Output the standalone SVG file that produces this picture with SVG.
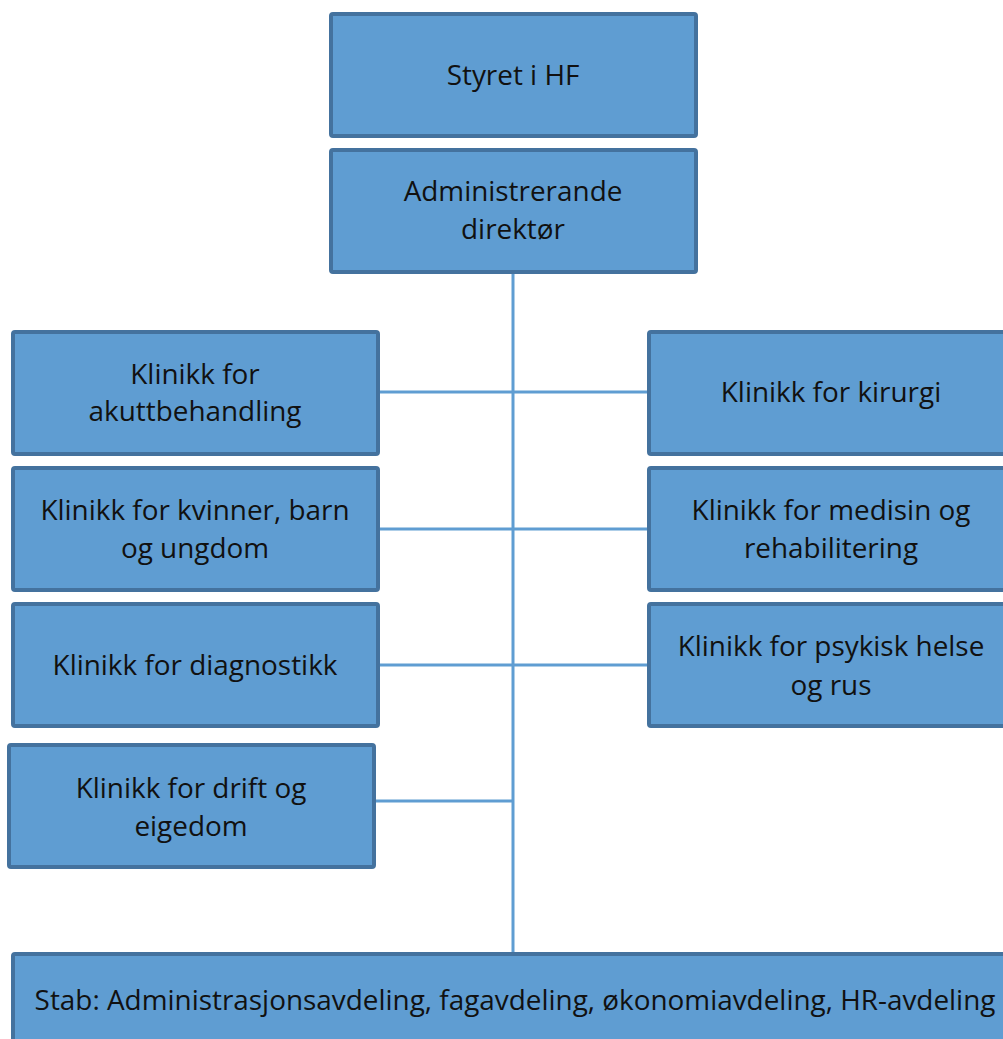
<svg xmlns="http://www.w3.org/2000/svg" width="1003" height="1039" viewBox="0 0 1003 1039">
<style>
.box{fill:#5f9dd2;stroke:#44729e;stroke-width:4}
.t{font-family:"Open Sans","Liberation Sans",sans-serif;font-size:27.9px;fill:#111;text-anchor:middle}
.c{stroke:#5f9dd2;stroke-width:3;fill:none}
</style>
<rect width="1003" height="1039" fill="#fff"/>
<g id="connectors">
<line class="c" x1="513" y1="273" x2="513" y2="953"/>
<line class="c" x1="378" y1="392" x2="648" y2="392"/>
<line class="c" x1="378" y1="529" x2="648" y2="529"/>
<line class="c" x1="378" y1="665" x2="648" y2="665"/>
<line class="c" x1="375" y1="801" x2="513" y2="801"/>
<line x1="207" y1="428" x2="377" y2="428" stroke="#6aa3d4" stroke-width="1"/>
</g>
<g id="styret"><rect class="box" x="331" y="14" width="365" height="122" rx="2"/><text class="t" x="513" y="85">Styret i HF</text></g>
<g id="direktor"><rect class="box" x="331" y="150" width="365" height="122" rx="2"/><text class="t" x="513" y="201">Administrerande</text><text class="t" x="513" y="239">direktør</text></g>
<g id="akutt"><rect class="box" x="13" y="332" width="365" height="122" rx="2"/><text class="t" x="195" y="384">Klinikk for</text><text class="t" x="195" y="421">akuttbehandling</text></g>
<g id="kvinner"><rect class="box" x="13" y="468" width="365" height="122" rx="2"/><text class="t" x="195" y="520">Klinikk for kvinner, barn</text><text class="t" x="195" y="558">og ungdom</text></g>
<g id="diagnostikk"><rect class="box" x="13" y="604" width="365" height="122" rx="2"/><text class="t" x="195" y="675">Klinikk for diagnostikk</text></g>
<g id="drift"><rect class="box" x="9" y="745" width="365" height="122" rx="2"/><text class="t" x="191" y="798">Klinikk for drift og</text><text class="t" x="191" y="836">eigedom</text></g>
<g id="kirurgi"><rect class="box" x="649" y="332" width="365" height="122" rx="2"/><text class="t" x="831" y="402">Klinikk for kirurgi</text></g>
<g id="medisin"><rect class="box" x="649" y="468" width="365" height="122" rx="2"/><text class="t" x="831" y="520">Klinikk for medisin og</text><text class="t" x="831" y="558">rehabilitering</text></g>
<g id="psykisk"><rect class="box" x="649" y="604" width="365" height="122" rx="2"/><text class="t" x="831" y="656">Klinikk for psykisk helse</text><text class="t" x="831" y="695">og rus</text></g>
<g id="stab"><rect class="box" x="13" y="954" width="1005" height="122" rx="2"/><text class="t" x="515" y="1010">Stab: Administrasjonsavdeling, fagavdeling, økonomiavdeling, HR-avdeling</text></g>
</svg>
